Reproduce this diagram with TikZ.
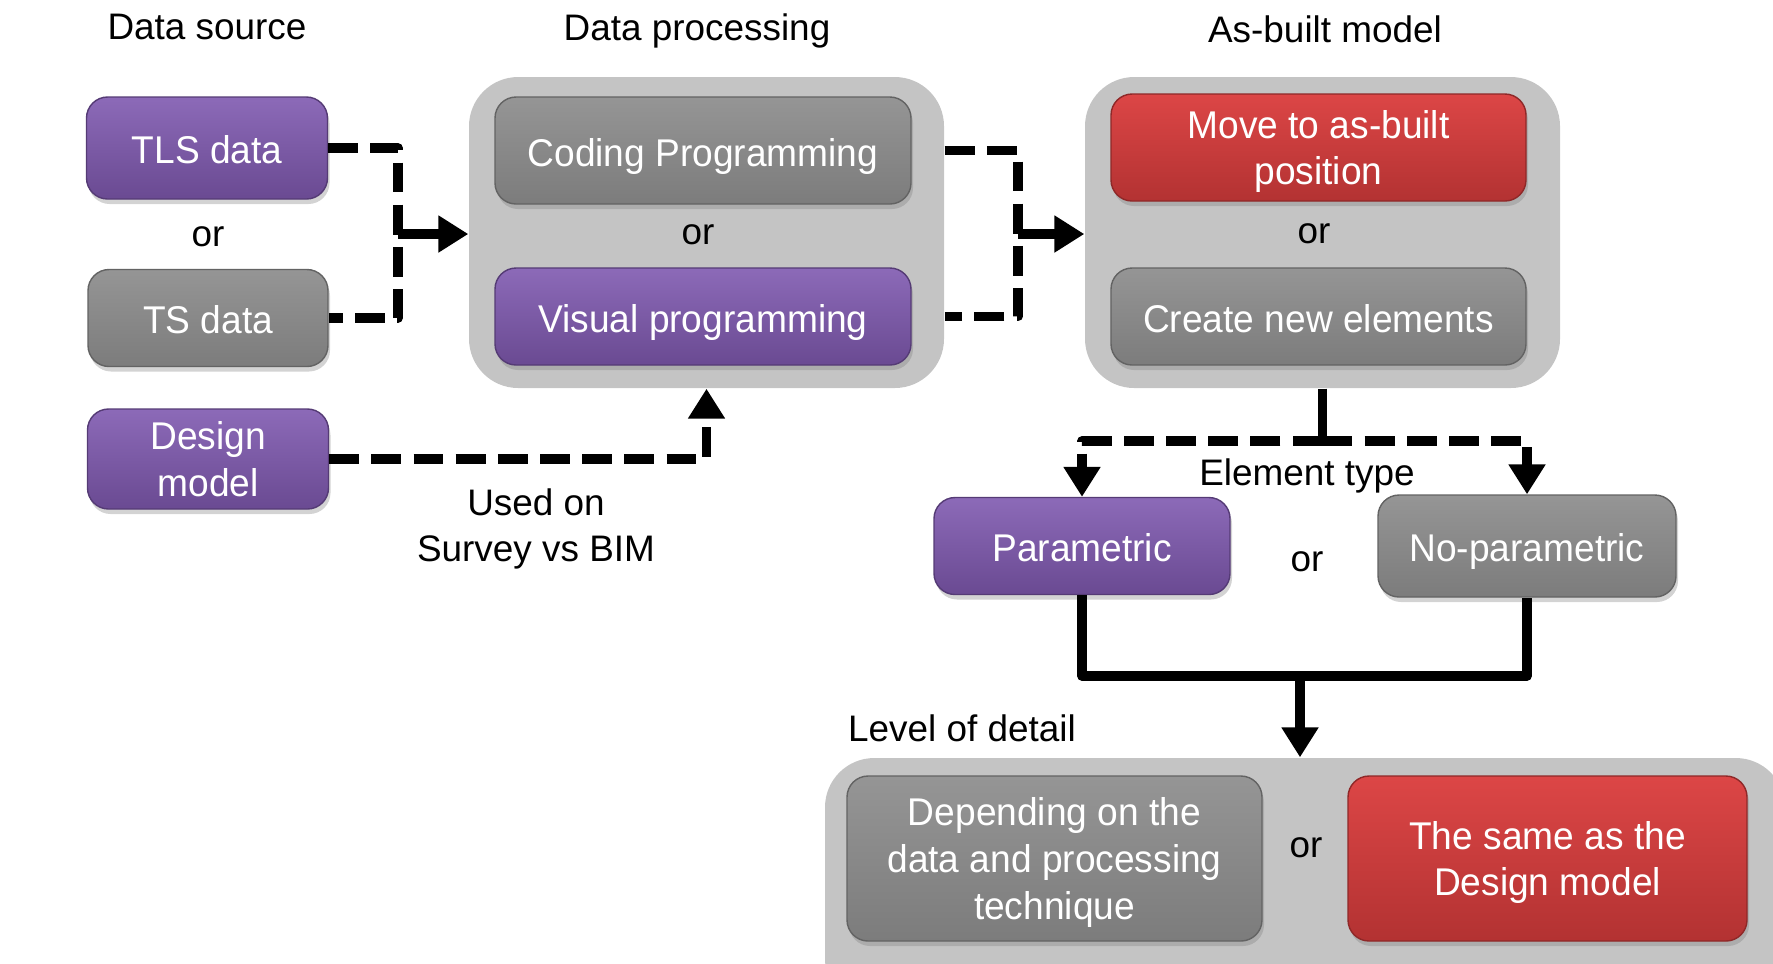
\documentclass[tikz,border=0pt]{standalone}
\usepackage{fontspec}
\setmainfont{Liberation Sans}
\newfontfamily\boxfont[FakeStretch=0.96]{Liberation Sans}
\usetikzlibrary{arrows.meta,shadows,positioning}

\definecolor{purpletop}{HTML}{8C6AB8}
\definecolor{purplebot}{HTML}{6A4A92}
\definecolor{graytop}{HTML}{959595}
\definecolor{graybot}{HTML}{7C7C7C}
\definecolor{redtop}{HTML}{DC4646}
\definecolor{redbot}{HTML}{B33232}
\definecolor{groupgray}{HTML}{C4C4C4}

\begin{document}
\begin{tikzpicture}[line join=round,
  box/.style={rounded corners=6pt, text=white, align=center, inner sep=0pt,
    font=\boxfont\fontsize{11}{13.3}\selectfont, minimum height=1cm,
    drop shadow={opacity=0.35, shadow xshift=0.02cm, shadow yshift=-0.05cm}},
  oneline/.style={text height=0.95em, text depth=0.06em},
  multiline/.style={text depth=-3pt},
  purplebox/.style={box, top color=purpletop, bottom color=purplebot, draw=purplebot!80!black, line width=0.4pt},
  graybox/.style={box, top color=graytop, bottom color=graybot, draw=graybot!80!black, line width=0.4pt},
  redbox/.style={box, top color=redtop, bottom color=redbot, draw=redbot!80!black, line width=0.4pt},
  group/.style={fill=groupgray, rounded corners=14pt, inner sep=0pt},
  label/.style={font=\fontsize{10.5}{13.3}\selectfont, align=center},
  dashln/.style={line width=2.6pt, dash pattern=on 8.5pt off 3.5pt},
  solidln/.style={line width=2.6pt},
  tip/.style={-{Triangle[length=8.5pt,width=10pt]}}]
  \useasboundingbox (0,0) rectangle (17.73,-9.63);
  \clip (0,0) rectangle (17.73,-9.63);

  % column titles
  \node[label] (srctitle) at (2.07,-0.27) {Data source};
  \node[label] (proctitle) at (6.97,-0.31) {Data processing};
  \node[label] (asbtitle) at (13.25,-0.29) {As-built model};

  % group panels
  \node[group, minimum width=4.75cm, minimum height=3.11cm] (proc) at (7.065,-2.325) {};
  \node[group, minimum width=4.75cm, minimum height=3.11cm] (asb) at (13.225,-2.325) {};
  \node[group, minimum width=9.6cm, minimum height=2.5cm] (lod) at (13.05,-8.83) {};

  % data source
  \node[purplebox, oneline, minimum width=2.41cm, minimum height=1.02cm] (tls) at (2.07,-1.48) {TLS data};
  \node[label] (or1) at (2.08,-2.37) {or};
  \node[graybox, oneline, minimum width=2.40cm, minimum height=0.97cm] (ts) at (2.08,-3.18) {TS data};
  \node[purplebox, multiline, minimum width=2.41cm] (design) at (2.08,-4.59) {Design\\model};
  \node[label] (usedon) at (5.36,-5.29) {Used on\\Survey vs BIM};

  % data processing
  \node[graybox, oneline, minimum width=4.16cm, minimum height=1.07cm] (code) at (7.03,-1.505) {Coding Programming};
  \node[label] (or2) at (6.98,-2.35) {or};
  \node[purplebox, oneline, minimum width=4.16cm, minimum height=0.97cm] (visual) at (7.03,-3.165) {Visual programming};

  % as-built model
  \node[redbox, multiline, minimum width=4.15cm, minimum height=1.07cm] (move) at (13.185,-1.475) {Move to as-built\\position};
  \node[label] (or3) at (13.14,-2.34) {or};
  \node[graybox, oneline, minimum width=4.15cm, minimum height=0.97cm] (create) at (13.185,-3.165) {Create new elements};

  % element type
  \node[label] (eltype) at (13.07,-4.76) {Element type};
  \node[purplebox, oneline, minimum width=2.96cm, minimum height=0.97cm] (param) at (10.82,-5.46) {Parametric};
  \node[label] (or4) at (13.07,-5.62) {or};
  \node[graybox, oneline, minimum width=2.98cm, minimum height=1.02cm] (noparam) at (15.27,-5.46) {No-parametric};

  % level of detail
  \node[label] (lodtitle) at (9.62,-7.28) {Level of detail};
  \node[graybox, multiline, minimum width=4.15cm, minimum height=1.65cm] (depend) at (10.545,-8.585) {Depending on the\\data and processing\\technique};
  \node[label] (or5) at (13.06,-8.48) {or};
  \node[redbox, multiline, minimum width=3.99cm, minimum height=1.65cm] (same) at (15.475,-8.585) {The same as the\\Design model};

  % connectors
  \coordinate (srcjoin) at (3.98,-2.34);
  \coordinate (procjoin) at (10.18,-2.34);
  \coordinate (asbsplit) at (13.225,-4.41);
  \coordinate (elemjoin) at (13.0,-6.76);

  \draw[dashln] (tls.east) -| (srcjoin) |- (ts.east);
  \draw[solidln, tip] (srcjoin) -- (srcjoin -| proc.west);
  \draw[dashln] (code.east -| proc.east) -| (procjoin) |- (visual.east -| proc.east);
  \draw[solidln, tip] (procjoin) -- (procjoin -| asb.west);
  \draw[dashln, tip] (design.east) -| (proc.south);
  \draw[solidln] (asb.south) -- (asbsplit);
  \draw[dashln, tip] (asbsplit) -| (param.north);
  \draw[dashln, tip] (asbsplit) -| (noparam.north);
  \draw[solidln] (param.south) |- (elemjoin) -| (noparam.south);
  \draw[solidln, tip] (elemjoin) -- (elemjoin |- lod.north);

\end{tikzpicture}
\end{document}
